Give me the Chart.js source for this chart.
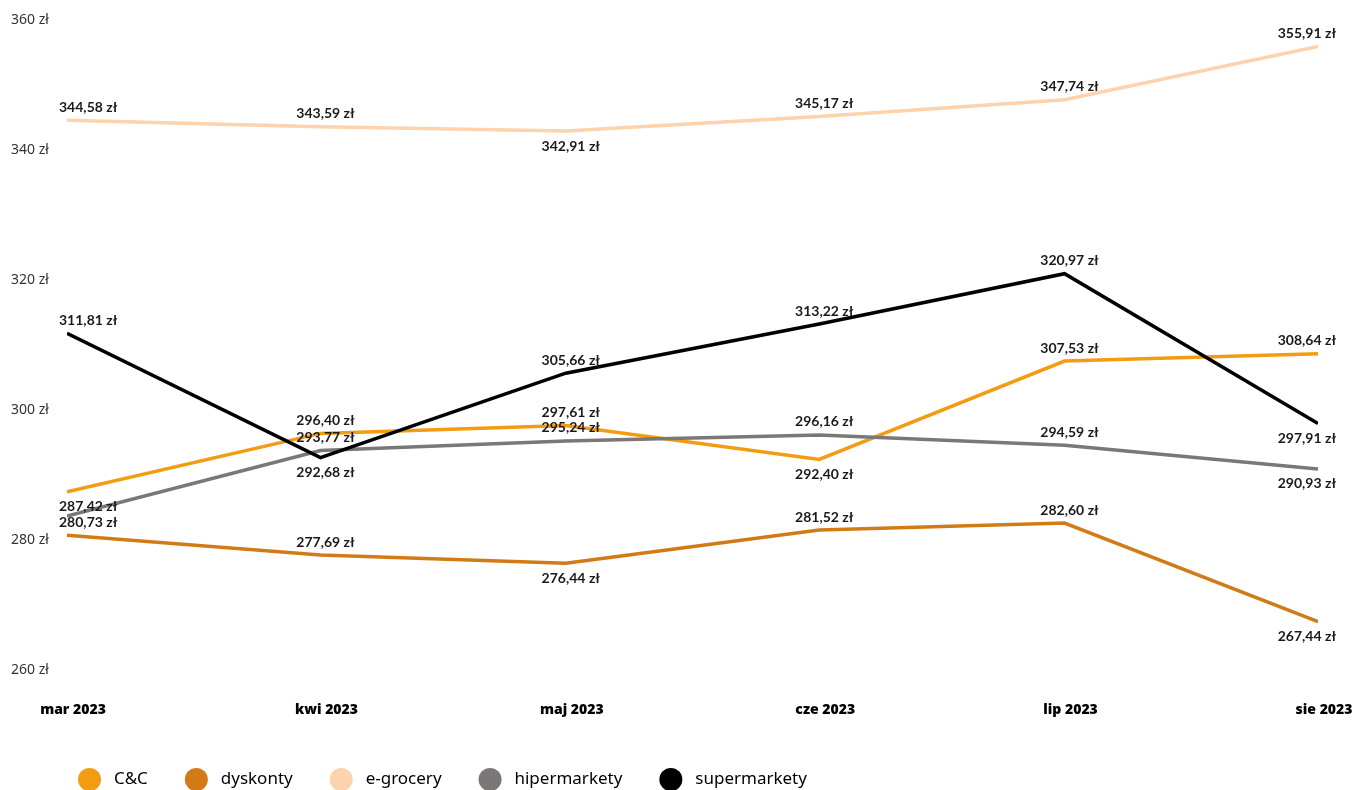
<!DOCTYPE html>
<html lang="pl">
<head>
<meta charset="utf-8">
<script src="https://cdn.jsdelivr.net/npm/chart.js@4"></script>
<style>
    html, body { margin: 0; padding: 0; background: #fff; overflow: hidden; }
    #wrap { position: relative; width: 1355px; height: 801px; }
</style>
</head>
<body>
<div id="wrap"><canvas id="priceChart"></canvas></div>
<script>
// months shown on the x axis and the date of each reading
const monthLabels = ['mar 2023', 'kwi 2023', 'maj 2023', 'cze 2023', 'lip 2023', 'sie 2023'];
const monthDates = ['2023-03-01', '2023-04-01', '2023-05-01', '2023-06-01', '2023-07-01', '2023-08-01'];

const seriesNames = ['C&C', 'dyskonty', 'e-grocery', 'hipermarkety', 'supermarkety'];
const ccValues = [287.42, 296.40, 297.61, 292.40, 307.53, 308.64];
const dyskontyValues = [280.73, 277.69, 276.44, 281.52, 282.60, 267.44];
const egroceryValues = [344.58, 343.59, 342.91, 345.17, 347.74, 355.91];
const hiperValues = [283.70, 293.77, 295.24, 296.16, 294.59, 290.93];
const superValues = [311.81, 292.68, 305.66, 313.22, 320.97, 297.91];

const yTicks = [260, 280, 300, 320, 340, 360];

const colors = ['#F39C12', '#D27B16', '#FDD3AD', '#7B7777', '#000000'];
// where each value label sits relative to its point (null = not shown)
const labelSide = [
    ['below', 'above', 'above', 'below', 'above', 'above'],
    ['above', 'above', 'below', 'above', 'above', 'below'],
    ['above', 'above', 'below', 'above', 'above', 'above'],
    [null, 'above', 'above', 'above', 'above', 'below'],
    ['above', 'below', 'above', 'above', 'above', 'below']
];

const dayMs = 24 * 3600 * 1000;
const dayOffsets = monthDates.map(d => (Date.parse(d) - Date.parse(monthDates[0])) / dayMs);

const allValues = [ccValues, dyskontyValues, egroceryValues, hiperValues, superValues];
const drawOrder = [2, 3, 4, 1, 0];

const datasets = seriesNames.map((name, i) => ({
    label: name,
    data: allValues[i].map((v, j) => ({ x: dayOffsets[j], y: v })),
    borderColor: colors[i],
    backgroundColor: colors[i],
    borderWidth: 3.5,
    pointRadius: 0,
    pointHoverRadius: 0,
    tension: 0,
    order: drawOrder[i]
}));

const fmt = v => v.toFixed(2).replace('.', ',') + ' zł';

const valueLabels = {
    id: 'valueLabels',
    afterDatasetsDraw(chart) {
        const ctx = chart.ctx;
        ctx.save();
        ctx.font = 'bold 14px Lato';
        ctx.fillStyle = '#1a1a1a';
        ctx.textAlign = 'center';
        ctx.textBaseline = 'middle';
        chart.data.datasets.forEach((ds, i) => {
            const meta = chart.getDatasetMeta(i);
            meta.data.forEach((pt, j) => {
                const side = labelSide[i][j];
                if (!side) return;
                const text = fmt(allValues[i][j]);
                const w = ctx.measureText(text).width;
                let x = pt.x + 5;
                x = Math.max(x, 59 + w / 2);
                x = Math.min(x, 1336 - w / 2);
                const y = side === 'above' ? pt.y - 13 : pt.y + 15;
                ctx.fillText(text, x, y);
            });
        });
        ctx.restore();
    }
};

const legendShift = {
    id: 'legendShift',
    afterLayout(chart) {
        chart.legend.left = 41;
    }
};

const chart = new Chart(document.getElementById('priceChart'), {
    type: 'line',
    data: { datasets: datasets },
    options: {
        responsive: true,
        maintainAspectRatio: false,
        animation: false,
        layout: { padding: { left: 11, top: 20, right: 37, bottom: 0 } },
        plugins: {
            tooltip: { enabled: false },
            legend: {
                position: 'bottom',
                align: 'start',
                labels: {
                    boxWidth: 23,
                    boxHeight: 23,
                    useBorderRadius: true,
                    borderRadius: 11.5,
                    padding: 37,
                    color: '#1a1a1a',
                    font: { family: 'Noto Sans', size: 17 },
                    generateLabels(ch) {
                        return ch.data.datasets.map((ds, i) => ({
                            text: ' ' + ds.label,
                            fillStyle: ds.borderColor,
                            strokeStyle: ds.borderColor,
                            lineWidth: 0,
                            hidden: false,
                            datasetIndex: i,
                            borderRadius: 11.5
                        }));
                    }
                }
            }
        },
        scales: {
            x: {
                type: 'linear',
                min: dayOffsets[0],
                max: dayOffsets[dayOffsets.length - 1],
                grid: { display: false },
                border: { display: false },
                afterBuildTicks(scale) {
                    scale.ticks = dayOffsets.map(v => ({ value: v }));
                },
                afterFit(scale) {
                    scale.height = 61;
                    scale.paddingLeft = 0;
                    scale.paddingRight = 0;
                },
                ticks: {
                    autoSkip: false,
                    maxRotation: 0,
                    padding: 24,
                    labelOffset: 6,
                    color: '#000',
                    font: { family: 'Open Sans', size: 14, weight: 800 },
                    callback: (v, i) => monthLabels[i]
                }
            },
            y: {
                min: yTicks[0],
                max: yTicks[yTicks.length - 1],
                grid: { display: false },
                border: { display: false },
                afterBuildTicks(scale) {
                    scale.ticks = yTicks.map(v => ({ value: v }));
                },
                afterFit(scale) {
                    scale.width = 56;
                    scale.paddingTop = 0;
                    scale.paddingBottom = 0;
                },
                ticks: {
                    crossAlign: 'far',
                    color: '#333',
                    font: { family: 'Noto Sans', size: 14 },
                    callback: v => v + ' zł'
                }
            }
        }
    },
    plugins: [valueLabels, legendShift]
});
</script>
</body>
</html>
